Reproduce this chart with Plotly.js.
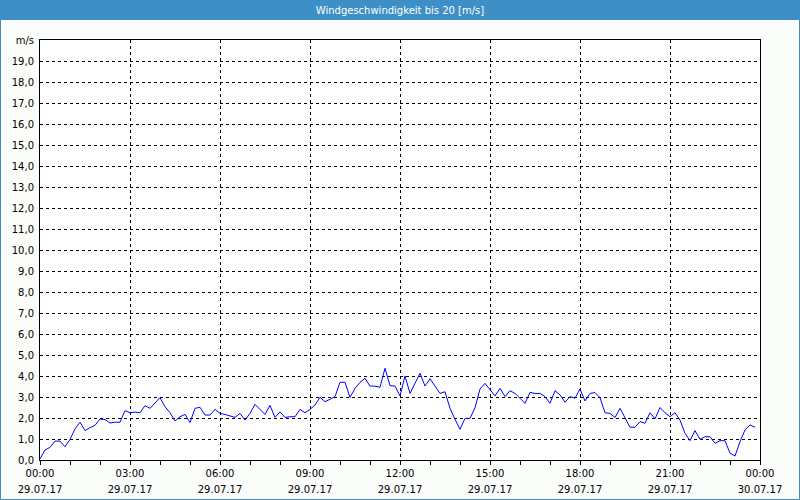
<!DOCTYPE html>
<html>
<head>
<meta charset="utf-8">
<script src="https://cdn.plot.ly/plotly-3.0.1.min.js"></script>
<style>
html,body{margin:0;padding:0;background:#fbfdfb;}
#chart{width:800px;height:500px;}
</style>
</head>
<body>
<div id="chart"></div>
<script>
// Wind speed [m/s], 10-minute values from 29.07.17 00:00 to 23:50
const startTime = "2017-07-29 00:00";
const stepMinutes = 10;
const windSpeed = [
  0.05, 0.48, 0.60, 0.90, 0.90, 0.63, 0.98, 1.48, 1.80, 1.40, 1.54, 1.65,
  1.95, 1.93, 1.76, 1.80, 1.80, 2.35, 2.25, 2.28, 2.25, 2.59, 2.46, 2.70,
  2.97, 2.54, 2.25, 1.86, 2.06, 2.17, 1.78, 2.46, 2.51, 2.14, 2.14, 2.41,
  2.22, 2.17, 2.10, 2.03, 2.22, 1.90, 2.22, 2.65, 2.41, 2.17, 2.60, 2.03,
  2.29, 2.03, 2.06, 2.06, 2.41, 2.25, 2.41, 2.62, 2.98, 2.78, 2.89, 3.02,
  3.70, 3.70, 2.98, 3.41, 3.70, 3.89, 3.52, 3.52, 3.46, 4.37, 3.54, 3.52,
  3.05, 4.00, 3.17, 3.65, 4.13, 3.52, 3.87, 3.52, 3.17, 3.25, 2.46, 1.94,
  1.46, 1.98, 1.98, 2.49, 3.38, 3.65, 3.37, 3.05, 3.41, 3.02, 3.30, 3.17,
  2.94, 2.70, 3.22, 3.17, 3.17, 3.02, 2.70, 3.30, 3.10, 2.75, 3.02, 2.94,
  3.38, 2.81, 3.17, 3.21, 2.97, 2.25, 2.22, 2.02, 2.46, 1.98, 1.56, 1.56,
  1.83, 1.75, 2.25, 1.96, 2.50, 2.25, 2.06, 2.25, 1.90, 1.27, 0.92, 1.40,
  0.98, 1.11, 1.11, 0.79, 0.92, 0.92, 0.32, 0.19, 0.87, 1.43, 1.67, 1.56
];
const timeTicks = [0, 3, 6, 9, 12, 15, 18, 21, 24];
const timeLabels = ["00:00", "03:00", "06:00", "09:00", "12:00", "15:00", "18:00", "21:00", "00:00"];
const dateLabels = ["29.07.17", "29.07.17", "29.07.17", "29.07.17", "29.07.17", "29.07.17", "29.07.17", "29.07.17", "30.07.17"];
const yTicks = [0,1,2,3,4,5,6,7,8,9,10,11,12,13,14,15,16,17,18,19,20];
const yLabels = ["0,0","1,0","2,0","3,0","4,0","5,0","6,0","7,0","8,0","9,0","10,0",
  "11,0","12,0","13,0","14,0","15,0","16,0","17,0","18,0","19,0","m/s"];
const chartTitle = "Windgeschwindigkeit bis 20 [m/s]";

// hours since start
const hours = windSpeed.map((_, i) => i * stepMinutes / 60);

const font = {family: "DejaVu Sans, Verdana, sans-serif", size: 10, color: "#000"};
const W = 800, H = 500, L = 40, R = 40, T = 40, B = 40;
const pw = W - L - R, ph = H - T - B;
const px = v => (v - L) / pw;
const py = v => (H - B - v) / ph;

const trace = {
  x: hours, y: windSpeed, type: "scatter", mode: "lines",
  line: {color: "#0000ff", width: 1}, hoverinfo: "skip", showlegend: false
};

const layout = {
  width: W, height: H,
  margin: {l: L, r: R, t: T, b: B, pad: 0},
  paper_bgcolor: "#fbfdfb", plot_bgcolor: "#ffffff",
  font: font,
  title: {text: chartTitle, x: 0.5, xanchor: "center", y: 1 - 10/H, yanchor: "middle", yref: "container",
          font: {family: "DejaVu Sans, Verdana, sans-serif", size: 10, color: "#ffffff"}},
  xaxis: {
    range: [0, 24], tickvals: timeTicks, ticktext: timeLabels,
    showgrid: true, gridcolor: "#000", gridwidth: 1, griddash: "3px,3px",
    showline: true, mirror: true, linecolor: "#000", linewidth: 1,
    ticks: "outside", ticklen: 4, tickcolor: "#000", ticklabelstandoff: 0,
    minor: {dtick: 1, ticks: "outside", ticklen: 4, tickcolor: "#000", showgrid: false},
    zeroline: false, fixedrange: true, tickfont: font
  },
  xaxis2: {
    overlaying: "x", side: "bottom", range: [0, 24], tickvals: timeTicks, ticktext: dateLabels,
    showgrid: false, showline: false, ticks: "", ticklabelstandoff: 22, zeroline: false,
    fixedrange: true, tickfont: font
  },
  yaxis: {
    range: [0, 20], tickvals: yTicks, ticktext: yLabels,
    showgrid: true, gridcolor: "#000", gridwidth: 1, griddash: "3px,3px",
    showline: true, mirror: true, linecolor: "#000", linewidth: 1,
    ticks: "", ticklabelstandoff: 3, zeroline: false, fixedrange: true, tickfont: font
  },
  shapes: [
    {type: "rect", xref: "paper", yref: "paper", x0: px(0), x1: px(W), y0: py(20), y1: py(0),
     fillcolor: "#3d8fc6", line: {width: 0}, layer: "below"},
    {type: "rect", xref: "paper", yref: "paper", x0: px(0.5), x1: px(W - 0.5), y0: py(H - 0.5), y1: py(0.5),
     fillcolor: "rgba(0,0,0,0)", line: {color: "#3d8fc6", width: 1}}
  ]
};

const trace2 = {x: [0], y: [null], xaxis: "x2", type: "scatter", mode: "lines", showlegend: false, hoverinfo: "skip"};

Plotly.newPlot("chart", [trace, trace2], layout, {staticPlot: true, displayModeBar: false});
</script>
</body>
</html>
